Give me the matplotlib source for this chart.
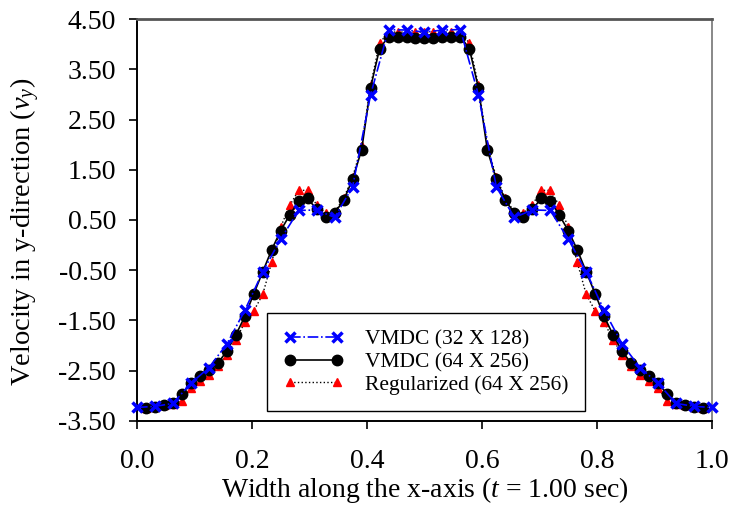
import matplotlib
matplotlib.use("Agg")
import matplotlib.pyplot as plt
import numpy as np

plt.rcParams['font.family'] = ['Liberation Serif', 'DejaVu Serif']
plt.rcParams['mathtext.fontset'] = 'custom'
plt.rcParams['mathtext.rm'] = 'Liberation Serif'
plt.rcParams['mathtext.it'] = 'Liberation Serif:italic'

# left half of each profile (the solution is symmetric about x = 0.5)
coarse_half = [-3.23, -3.21, -3.15, -2.75, -2.44, -1.97, -1.30, -0.53,
               0.12, 0.69, 0.70, 0.55, 1.16, 2.99, 4.29, 4.28, 4.24]
fine_half = [-3.25, -3.22, -3.19, -3.15, -2.96, -2.75, -2.60, -2.48,
             -2.35, -2.11, -1.79, -1.42, -0.97, -0.53, -0.09, 0.29,
             0.60, 0.88, 0.93, 0.71, 0.56, 0.64, 0.89, 1.31,
             1.89, 3.13, 3.91, 4.15, 4.15, 4.14, 4.13, 4.13]
reg_half = [-3.25, -3.22, -3.19, -3.16, -3.10, -2.84, -2.70, -2.58,
            -2.40, -2.18, -1.88, -1.54, -1.31, -0.98, -0.34, 0.36,
            0.79, 1.09, 1.09, 0.80, 0.63, 0.66, 0.93, 1.35,
            1.97, 3.18, 4.02, 4.24, 4.24, 4.24, 4.24, 4.24]

vmdc_coarse = coarse_half + coarse_half[-2::-1]
vmdc_fine = fine_half + fine_half[-2::-1]
regularized = reg_half + reg_half[-2::-1]

x_coarse = np.arange(len(vmdc_coarse)) / 32
x_fine = np.arange(1, len(vmdc_fine) + 1) / 64

fig = plt.figure(figsize=(7.34, 5.14), dpi=100)
ax = fig.add_axes([0.1866, 0.181, 0.7834, 0.782])

ax.plot(x_fine, regularized, color='black', linestyle=':', linewidth=1,
        marker='^', markersize=5.5, markerfacecolor='red',
        markeredgecolor='red', label='Regularized (64 X 256)', zorder=2)
ax.plot(x_fine, vmdc_fine, color='black', linestyle='-', linewidth=1.2,
        marker='o', markersize=7.5, markerfacecolor='black',
        markeredgecolor='black', label='VMDC (64 X 256)', zorder=3)
ax.plot(x_coarse, vmdc_coarse, color='blue', linestyle='-.', linewidth=1.2,
        marker='x', markersize=7.5, markeredgewidth=2.5,
        label='VMDC (32 X 128)', zorder=4, clip_on=False)

ax.set_xlim(0, 1.0)
ax.set_ylim(-3.5, 4.5)
ax.set_xticks(np.arange(0, 1.01, 0.2))
ax.set_xticklabels([f'{v:.1f}' for v in np.arange(0, 1.01, 0.2)])
ax.set_yticks(np.arange(-3.5, 4.51, 1.0))
ax.set_yticklabels([f'{v:.2f}' for v in np.arange(-3.5, 4.51, 1.0)])
ax.tick_params(direction='out', length=6, width=1.2, labelsize=20,
               top=False, right=False)
ax.tick_params(axis='x', pad=14)
ax.tick_params(axis='y', pad=9)

for side in ['left', 'bottom']:
    ax.spines[side].set_linewidth(1.4)
ax.spines['top'].set_color('#555555')
ax.spines['top'].set_linewidth(2)
ax.spines['right'].set_color('#888888')
ax.spines['right'].set_linewidth(1.4)

ax.set_xlabel('Width along the x-axis ($t$ = 1.00 sec)', fontsize=20, labelpad=1)
ax.set_ylabel('Velocity in y-direction ($v_y$)', fontsize=20.5)
ax.yaxis.set_label_coords(-0.166, 0.47)

handles, labels = ax.get_legend_handles_labels()
leg = ax.legend(handles[::-1], labels[::-1], loc='lower left',
                bbox_to_anchor=(0.226, 0.025),
                numpoints=2, handlelength=2.8, fontsize=15.5, fancybox=False,
                edgecolor='black', framealpha=1, borderpad=0.75,
                labelspacing=0.12, handletextpad=1.0, borderaxespad=0)
leg.get_frame().set_linewidth(1.0)

fig.savefig('out.png', dpi=100)
